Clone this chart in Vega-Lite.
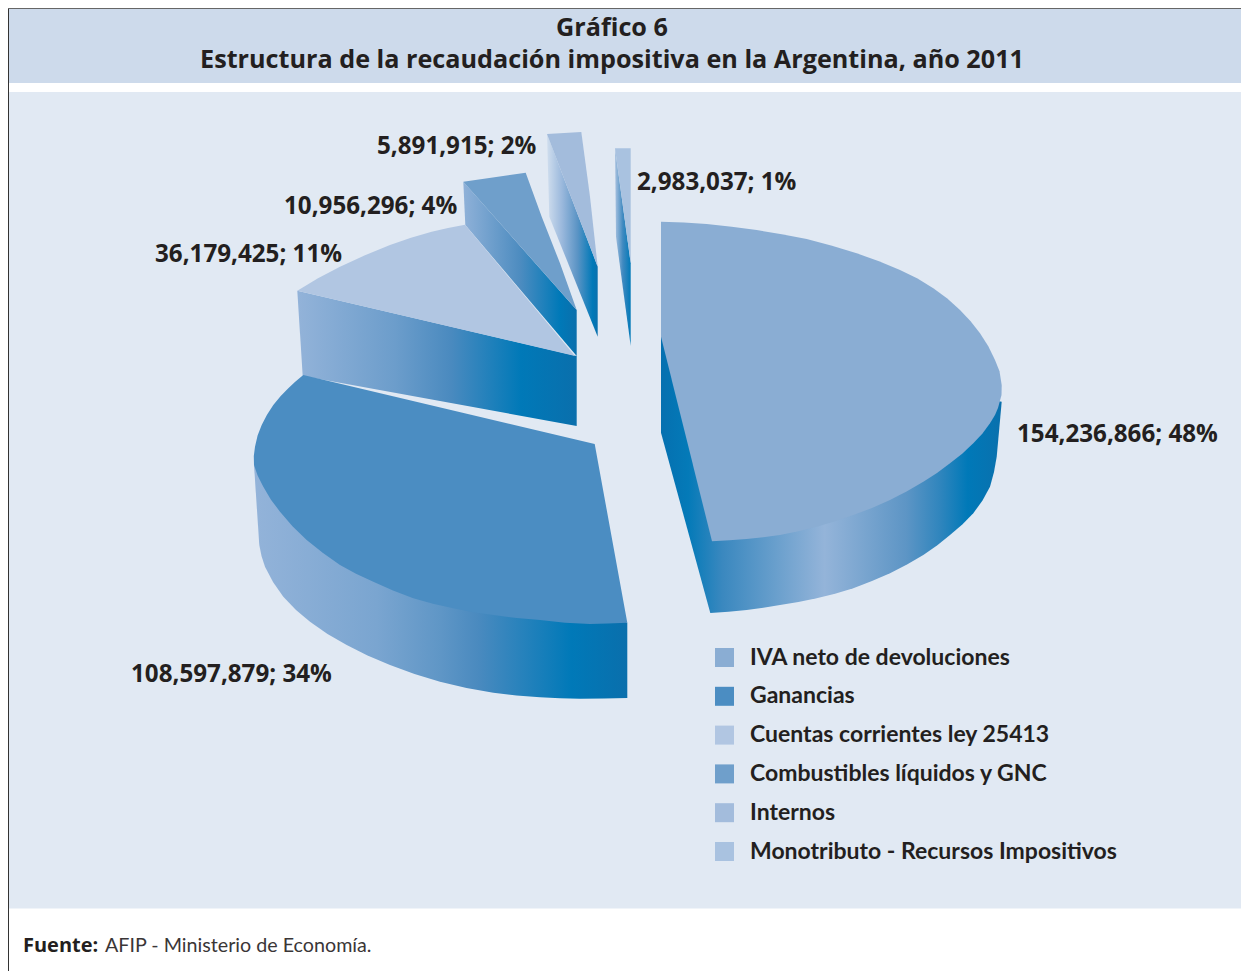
{
"$schema":"https://vega.github.io/schema/vega-lite/v6.json",
"width":1241,"height":971,"padding":0,
"autosize":{"type":"none"},
"background":"#ffffff",
"view":{"stroke":null},
"config":{"font":"Open Sans"},
"datasets":{
"top":[
{"category":"IVA neto de devoluciones","i":1,"x":661,"y":221.7},{"category":"IVA neto de devoluciones","i":2,"x":683.8,"y":222.6},{"category":"IVA neto de devoluciones","i":3,"x":706.7,"y":224},{"category":"IVA neto de devoluciones","i":4,"x":731.7,"y":226.7},{"category":"IVA neto de devoluciones","i":5,"x":756.7,"y":230},{"category":"IVA neto de devoluciones","i":6,"x":781.7,"y":234.2},{"category":"IVA neto de devoluciones","i":7,"x":806.7,"y":239},{"category":"IVA neto de devoluciones","i":8,"x":832,"y":245.7},{"category":"IVA neto de devoluciones","i":9,"x":856.7,"y":253.3},{"category":"IVA neto de devoluciones","i":10,"x":879,"y":261.2},{"category":"IVA neto de devoluciones","i":11,"x":900,"y":270},{"category":"IVA neto de devoluciones","i":12,"x":917.5,"y":278.5},{"category":"IVA neto de devoluciones","i":13,"x":933.3,"y":288.3},{"category":"IVA neto de devoluciones","i":14,"x":947.3,"y":298.6},{"category":"IVA neto de devoluciones","i":15,"x":960,"y":310},{"category":"IVA neto de devoluciones","i":16,"x":970.6,"y":321.2},{"category":"IVA neto de devoluciones","i":17,"x":980,"y":333.3},{"category":"IVA neto de devoluciones","i":18,"x":988.3,"y":346.3},{"category":"IVA neto de devoluciones","i":19,"x":995,"y":360},{"category":"IVA neto de devoluciones","i":20,"x":999.5,"y":371.3},{"category":"IVA neto de devoluciones","i":21,"x":1001.7,"y":385},{"category":"IVA neto de devoluciones","i":22,"x":1001.5,"y":395},{"category":"IVA neto de devoluciones","i":23,"x":998,"y":408},{"category":"IVA neto de devoluciones","i":24,"x":995,"y":415},{"category":"IVA neto de devoluciones","i":25,"x":990,"y":423.3},{"category":"IVA neto de devoluciones","i":26,"x":982.3,"y":433.8},{"category":"IVA neto de devoluciones","i":27,"x":973.3,"y":443.3},{"category":"IVA neto de devoluciones","i":28,"x":962.2,"y":453.8},{"category":"IVA neto de devoluciones","i":29,"x":950,"y":463.3},{"category":"IVA neto de devoluciones","i":30,"x":937,"y":473},{"category":"IVA neto de devoluciones","i":31,"x":923.3,"y":481.7},{"category":"IVA neto de devoluciones","i":32,"x":907,"y":491.2},{"category":"IVA neto de devoluciones","i":33,"x":890,"y":500},{"category":"IVA neto de devoluciones","i":34,"x":872,"y":508},{"category":"IVA neto de devoluciones","i":35,"x":853.3,"y":515},{"category":"IVA neto de devoluciones","i":36,"x":835.2,"y":521.2},{"category":"IVA neto de devoluciones","i":37,"x":816.7,"y":526.7},{"category":"IVA neto de devoluciones","i":38,"x":798.5,"y":531.2},{"category":"IVA neto de devoluciones","i":39,"x":780,"y":535},{"category":"IVA neto de devoluciones","i":40,"x":763.3,"y":537.2},{"category":"IVA neto de devoluciones","i":41,"x":746.7,"y":539},{"category":"IVA neto de devoluciones","i":42,"x":729.5,"y":540.3},{"category":"IVA neto de devoluciones","i":43,"x":712,"y":541.3},{"category":"IVA neto de devoluciones","i":44,"x":661,"y":336.7},
{"category":"Ganancias","i":1,"x":303.3,"y":375},{"category":"Ganancias","i":2,"x":594.7,"y":444},{"category":"Ganancias","i":3,"x":627.3,"y":622.7},{"category":"Ganancias","i":4,"x":608,"y":623.6},{"category":"Ganancias","i":5,"x":590,"y":624},{"category":"Ganancias","i":6,"x":565,"y":622.8},{"category":"Ganancias","i":7,"x":540,"y":620},{"category":"Ganancias","i":8,"x":516.5,"y":618},{"category":"Ganancias","i":9,"x":493.3,"y":615},{"category":"Ganancias","i":10,"x":473,"y":612.2},{"category":"Ganancias","i":11,"x":453.3,"y":608.3},{"category":"Ganancias","i":12,"x":433,"y":603.8},{"category":"Ganancias","i":13,"x":413.3,"y":598.3},{"category":"Ganancias","i":14,"x":393,"y":590.6},{"category":"Ganancias","i":15,"x":373.3,"y":581.7},{"category":"Ganancias","i":16,"x":356,"y":573.8},{"category":"Ganancias","i":17,"x":340,"y":565},{"category":"Ganancias","i":18,"x":323,"y":553},{"category":"Ganancias","i":19,"x":306.7,"y":540},{"category":"Ganancias","i":20,"x":292.5,"y":526.2},{"category":"Ganancias","i":21,"x":280,"y":511.7},{"category":"Ganancias","i":22,"x":270.8,"y":499.5},{"category":"Ganancias","i":23,"x":263.3,"y":486.7},{"category":"Ganancias","i":24,"x":257.6,"y":475.5},{"category":"Ganancias","i":25,"x":254,"y":465},{"category":"Ganancias","i":26,"x":253.8,"y":456},{"category":"Ganancias","i":27,"x":255,"y":446.7},{"category":"Ganancias","i":28,"x":257.6,"y":435.5},{"category":"Ganancias","i":29,"x":261.7,"y":425},{"category":"Ganancias","i":30,"x":267,"y":414.7},{"category":"Ganancias","i":31,"x":273.3,"y":405},{"category":"Ganancias","i":32,"x":280.5,"y":396.2},{"category":"Ganancias","i":33,"x":288.3,"y":388.3},{"category":"Ganancias","i":34,"x":295.5,"y":381.5},
{"category":"Cuentas corrientes ley 25413","i":1,"x":297.3,"y":290.7},{"category":"Cuentas corrientes ley 25413","i":2,"x":318,"y":278.2},{"category":"Cuentas corrientes ley 25413","i":3,"x":340,"y":266.7},{"category":"Cuentas corrientes ley 25413","i":4,"x":365,"y":255.2},{"category":"Cuentas corrientes ley 25413","i":5,"x":390,"y":245},{"category":"Cuentas corrientes ley 25413","i":6,"x":411,"y":237.8},{"category":"Cuentas corrientes ley 25413","i":7,"x":431.7,"y":231.7},{"category":"Cuentas corrientes ley 25413","i":8,"x":448,"y":228},{"category":"Cuentas corrientes ley 25413","i":9,"x":465,"y":224.7},{"category":"Cuentas corrientes ley 25413","i":10,"x":575,"y":356},
{"category":"Combustibles líquidos y GNC","i":1,"x":463.3,"y":181.7},{"category":"Combustibles líquidos y GNC","i":2,"x":525.7,"y":172.7},{"category":"Combustibles líquidos y GNC","i":3,"x":541.7,"y":216.7},{"category":"Combustibles líquidos y GNC","i":4,"x":560,"y":263.3},{"category":"Combustibles líquidos y GNC","i":5,"x":576.7,"y":310},
{"category":"Internos","i":1,"x":547,"y":134},{"category":"Internos","i":2,"x":581.3,"y":132},{"category":"Internos","i":3,"x":590,"y":196.7},{"category":"Internos","i":4,"x":597.7,"y":266.7},
{"category":"Monotributo - Recursos Impositivos","i":1,"x":615,"y":148.3},{"category":"Monotributo - Recursos Impositivos","i":2,"x":630.7,"y":148.3},{"category":"Monotributo - Recursos Impositivos","i":3,"x":630.7,"y":263.3}
],
"sideIVA":[{"i":1,"x":661,"y":336.7},{"i":2,"x":661,"y":432.7},{"i":3,"x":710.3,"y":613},{"i":4,"x":728.5,"y":611.8},{"i":5,"x":746.7,"y":610},{"i":6,"x":763.4,"y":607.7},{"i":7,"x":780,"y":605},{"i":8,"x":798.4,"y":602},{"i":9,"x":816.7,"y":598.3},{"i":10,"x":835,"y":593.7},{"i":11,"x":853.3,"y":588.3},{"i":12,"x":872,"y":581},{"i":13,"x":890,"y":573.3},{"i":14,"x":907,"y":564.6},{"i":15,"x":923.3,"y":555},{"i":16,"x":937,"y":545.5},{"i":17,"x":950,"y":535},{"i":18,"x":962.3,"y":524.6},{"i":19,"x":973.3,"y":513.3},{"i":20,"x":982.5,"y":500.5},{"i":21,"x":990,"y":486.7},{"i":22,"x":994,"y":472},{"i":23,"x":996.7,"y":456.7},{"i":24,"x":1001.7,"y":401.7}],
"sideGan":[{"i":1,"x":254,"y":465},{"i":2,"x":259.3,"y":545},{"i":3,"x":261.5,"y":556},{"i":4,"x":265,"y":566.7},{"i":5,"x":273,"y":582},{"i":6,"x":283.3,"y":596.7},{"i":7,"x":296,"y":610},{"i":8,"x":310,"y":621.7},{"i":9,"x":327.5,"y":634},{"i":10,"x":346.7,"y":645},{"i":11,"x":367.5,"y":655.5},{"i":12,"x":390,"y":665},{"i":13,"x":414.5,"y":674},{"i":14,"x":440,"y":681.7},{"i":15,"x":466.5,"y":688},{"i":16,"x":493.3,"y":692.7},{"i":17,"x":516.5,"y":695.5},{"i":18,"x":540,"y":697.3},{"i":19,"x":560,"y":698.3},{"i":20,"x":580,"y":698.7},{"i":21,"x":604,"y":698.6},{"i":22,"x":627.3,"y":698},{"i":23,"x":627.3,"y":622.7}],
"sideCue":[{"i":1,"x":297.3,"y":290.7},{"i":2,"x":302.7,"y":376},{"i":3,"x":576.7,"y":426},{"i":4,"x":576.7,"y":356}],
"sideCom":[{"i":1,"x":463.3,"y":181.7},{"i":2,"x":465.3,"y":225},{"i":3,"x":576.7,"y":356},{"i":4,"x":576.7,"y":310}],
"sideInt":[{"i":1,"x":547,"y":134},{"i":2,"x":549.3,"y":216.7},{"i":3,"x":597.7,"y":336.7},{"i":4,"x":597.7,"y":266.7}],
"sideMon":[{"i":1,"x":615,"y":148.3},{"i":2,"x":616,"y":236.7},{"i":3,"x":630.7,"y":346},{"i":4,"x":630.7,"y":263.3}],
"labels":[
{"label":"154,236,866; 48%","x":1017,"y":434.5},
{"label":"108,597,879; 34%","x":131,"y":674.5},
{"label":"36,179,425; 11%","x":155,"y":254.5},
{"label":"10,956,296; 4%","x":284,"y":206.5},
{"label":"5,891,915; 2%","x":377,"y":146.5},
{"label":"2,983,037; 1%","x":637,"y":182.5}
]
},
"data":{"name":"top"},
"encoding":{
"x":{"field":"x","type":"quantitative","axis":null,"scale":{"domain":[0,1241],"nice":false,"zero":false}},
"y":{"field":"y","type":"quantitative","axis":null,"scale":{"domain":[971,0],"nice":false,"zero":false}}
},
"layer":[
{"data":{"values":[{"x":9,"x2":1241,"y":8,"y2":83}]},"mark":{"type":"rect","color":"#cddaeb"},"encoding":{"x2":{"field":"x2"},"y2":{"field":"y2"}}},
{"data":{"values":[{"x":9,"x2":1241,"y":92,"y2":908.5}]},"mark":{"type":"rect","color":"#e1e9f3"},"encoding":{"x2":{"field":"x2"},"y2":{"field":"y2"}}},
{"data":{"values":[{"x":8.5,"y":8,"y2":971}]},"mark":{"type":"rule","color":"#333333","strokeWidth":1},"encoding":{"y2":{"field":"y2"}}},
{"data":{"values":[{"x":8,"x2":1241,"y":8.5}]},"mark":{"type":"rule","color":"#666666","strokeWidth":1},"encoding":{"x2":{"field":"x2"}}},
{"data":{"name":"sideIVA"},"mark":{"type":"line","interpolate":"linear-closed","strokeWidth":0,"fill":{"gradient":"linear","x1":0,"y1":0,"x2":1,"y2":0,"stops":[{"offset":0,"color":"#0570b0"},{"offset":0.08,"color":"#047ab8"},{"offset":0.18,"color":"#3a88bf"},{"offset":0.48,"color":"#94b4d9"},{"offset":0.72,"color":"#5d95c5"},{"offset":0.82,"color":"#2f85bd"},{"offset":0.9,"color":"#0079b8"},{"offset":1,"color":"#0a70ad"}]}},"encoding":{"order":{"field":"i"}}},
{"data":{"name":"sideGan"},"mark":{"type":"line","interpolate":"linear-closed","strokeWidth":0,"fill":{"gradient":"linear","x1":0,"y1":0,"x2":1,"y2":0,"stops":[{"offset":0,"color":"#93b3d9"},{"offset":0.33,"color":"#7aa5d0"},{"offset":0.5,"color":"#5f96c6"},{"offset":0.6,"color":"#4a8abf"},{"offset":0.85,"color":"#0079b8"},{"offset":1,"color":"#0a6fac"}]}},"encoding":{"order":{"field":"i"}}},
{"data":{"name":"sideCue"},"mark":{"type":"line","interpolate":"linear-closed","strokeWidth":0,"fill":{"gradient":"linear","x1":0,"y1":0,"x2":1,"y2":0,"stops":[{"offset":0,"color":"#93b3d9"},{"offset":0.35,"color":"#6c9dcb"},{"offset":0.55,"color":"#4a8abf"},{"offset":0.8,"color":"#0079b8"},{"offset":1,"color":"#0a6fac"}]}},"encoding":{"order":{"field":"i"}}},
{"data":{"name":"sideCom"},"mark":{"type":"line","interpolate":"linear-closed","strokeWidth":0,"fill":{"gradient":"linear","x1":0,"y1":0,"x2":1,"y2":0,"stops":[{"offset":0,"color":"#8fb1d8"},{"offset":0.5,"color":"#4d8cc0"},{"offset":0.85,"color":"#0079b8"},{"offset":1,"color":"#0a6fac"}]}},"encoding":{"order":{"field":"i"}}},
{"data":{"name":"sideInt"},"mark":{"type":"line","interpolate":"linear-closed","strokeWidth":0,"fill":{"gradient":"linear","x1":0,"y1":0,"x2":1,"y2":0,"stops":[{"offset":0,"color":"#d0deee"},{"offset":0.3,"color":"#9ab8dc"},{"offset":0.6,"color":"#5b94c5"},{"offset":0.9,"color":"#0079b8"},{"offset":1,"color":"#0a70ad"}]}},"encoding":{"order":{"field":"i"}}},
{"data":{"name":"sideMon"},"mark":{"type":"line","interpolate":"linear-closed","strokeWidth":0,"fill":{"gradient":"linear","x1":0,"y1":0,"x2":1,"y2":0,"stops":[{"offset":0,"color":"#a9c2e0"},{"offset":0.5,"color":"#3f89c0"},{"offset":1,"color":"#0079b8"}]}},"encoding":{"order":{"field":"i"}}},
{"mark":{"type":"line","interpolate":"linear-closed","strokeWidth":0},
 "encoding":{"order":{"field":"i"},"detail":{"field":"category"},
 "fill":{"field":"category","type":"nominal","scale":{"domain":["IVA neto de devoluciones","Ganancias","Cuentas corrientes ley 25413","Combustibles líquidos y GNC","Internos","Monotributo - Recursos Impositivos"],"range":["#8aadd3","#4b8dc2","#b1c6e2","#6f9fcb","#a3bcdc","#a9c2e0"]},
 "legend":{"title":null,"orient":"none","legendX":713,"legendY":646,"symbolType":"square","symbolSize":361,"symbolStrokeWidth":0,"labelFont":"Lato","labelFontWeight":"bold","labelFontSize":23,"labelColor":"#231f20","labelOffset":14,"rowPadding":14.8,"labelLimit":500,"padding":0}}}},
{"data":{"name":"labels"},"mark":{"type":"text","align":"left","baseline":"middle","font":"Open Sans","fontWeight":"bold","fontSize":24.2,"color":"#231f20"},"encoding":{"text":{"field":"label"}}},
{"data":{"values":[{"t":"Gráfico 6","x":612,"y":28},{"t":"Estructura de la recaudación impositiva en la Argentina, año 2011","x":612,"y":60}]},"mark":{"type":"text","align":"center","baseline":"middle","font":"Open Sans","fontWeight":"bold","fontSize":25.2,"color":"#231f20"},"encoding":{"text":{"field":"t"}}},
{"data":{"values":[{"t":"Fuente:","x":23,"y":945.5}]},"mark":{"type":"text","align":"left","baseline":"middle","font":"Open Sans","fontWeight":"bold","fontSize":20,"color":"#231f20"},"encoding":{"text":{"field":"t"}}},
{"data":{"values":[{"t":"AFIP - Ministerio de Economía.","x":105,"y":945.5}]},"mark":{"type":"text","align":"left","baseline":"middle","font":"Lato","fontSize":19.7,"color":"#3a3637"},"encoding":{"text":{"field":"t"}}}
]
}
